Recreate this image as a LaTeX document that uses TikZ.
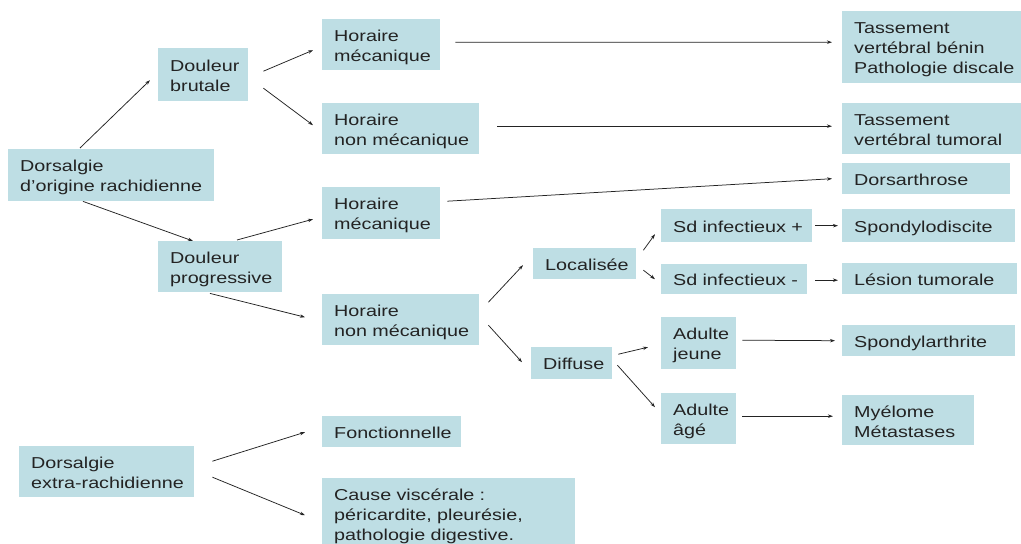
\documentclass[tikz,border=0pt]{standalone}
\usepackage{fontspec}
\setmainfont{Liberation Sans}[FakeStretch=1.25]
\usetikzlibrary{arrows.meta,calc}
\definecolor{boxfill}{RGB}{190,222,228}
\definecolor{ink}{RGB}{35,35,35}
\newcommand{\boxfont}{\fontsize{15.8bp}{20bp}\selectfont\hyphenpenalty=10000\exhyphenpenalty=10000\hbadness=10000\hfuzz=200pt}
\begin{document}
\begin{tikzpicture}[x=1bp,y=-1bp,
  box/.style={fill=boxfill, anchor=north west, inner xsep=12bp, inner ysep=0pt,
    align=left, text=ink, font=\boxfont,
    execute at begin node={\rule{0pt}{17bp}},
    execute at end node={\rule[-3.4bp]{0pt}{3.4bp}}},
  arr/.style={draw=ink, line width=0.75bp, -{Stealth[length=5bp,width=3.4bp]}}]
\useasboundingbox (0,0) rectangle (1021,544);
\clip (0,0) rectangle (1021,544);
\fill[white] (0,0) rectangle (1021,544);
% nodes
\node[box, minimum width=206bp, minimum height=52bp, text width=182bp] (dor) at (8,149) {Dorsalgie\\d'origine~rachidienne};
\node[box, minimum width=90bp, minimum height=53bp, text width=66bp] (db) at (158,48) {Douleur\\brutale};
\node[box, minimum width=118bp, minimum height=51bp, text width=94bp] (hm1) at (322,19) {Horaire\\mécanique};
\node[box, minimum width=157bp, minimum height=51bp, text width=133bp] (hnm1) at (322,103) {Horaire\\non~mécanique};
\node[box, minimum width=118bp, minimum height=52bp, text width=94bp] (hm2) at (322,187) {Horaire\\mécanique};
\node[box, minimum width=124bp, minimum height=51bp, text width=100bp] (dp) at (158,241) {Douleur\\progressive};
\node[box, minimum width=157bp, minimum height=51bp, text width=133bp] (hnm2) at (322,294) {Horaire\\non~mécanique};
\node[box, minimum width=139bp, minimum height=31bp, text width=115bp] (fon) at (322,416) {Fonctionnelle};
\node[box, minimum width=175bp, minimum height=51bp, text width=151bp] (dex) at (19,446) {Dorsalgie\\extra-rachidienne};
\node[box, minimum width=253bp, minimum height=70bp, text width=229bp] (cv) at (322,478) {Cause~viscérale~:\\péricardite,~pleurésie,\\pathologie~digestive.};
\node[box, minimum width=179bp, minimum height=72bp, text width=155bp] (tb) at (842,11) {Tassement\\vertébral~bénin\\Pathologie~discale};
\node[box, minimum width=179bp, minimum height=51bp, text width=155bp] (tt) at (842,103) {Tassement\\vertébral~tumoral};
\node[box, minimum width=168bp, minimum height=31bp, text width=144bp] (dsa) at (842,163) {Dorsarthrose};
\node[box, minimum width=151bp, minimum height=33bp, text width=127bp] (sip) at (661,209) {Sd~infectieux~+};
\node[box, minimum width=173bp, minimum height=33bp, text width=149bp] (spd) at (842,209) {Spondylodiscite};
\node[box, minimum width=103bp, minimum height=31bp, text width=79bp] (loc) at (533,248) {Localisée};
\node[box, minimum width=146bp, minimum height=30bp, text width=122bp] (sim) at (661,264) {Sd~infectieux~-};
\node[box, minimum width=175bp, minimum height=31bp, text width=151bp] (les) at (842,263) {Lésion~tumorale};
\node[box, minimum width=75bp, minimum height=52bp, text width=51bp] (aj) at (661,317) {Adulte\\jeune};
\node[box, minimum width=173bp, minimum height=31bp, text width=149bp] (spa) at (842,325) {Spondylarthrite};
\node[box, minimum width=81bp, minimum height=32bp, text width=57bp] (dif) at (531,347) {Diffuse};
\node[box, minimum width=75bp, minimum height=51bp, text width=51bp] (aa) at (661,393) {Adulte\\âgé};
\node[box, minimum width=132bp, minimum height=50bp, text width=108bp] (mye) at (842,395) {Myélome\\Métastases};
% connectors
\draw[arr] ($(dor.north west)+(72,-1)$) -- ($(db.west)+(-8,5.5)$);
\draw[arr] ($(dor.south west)+(75,0)$) -- ($(dp.north west)+(35,0)$);
\draw[arr] ($(db.east)+(15,-3.5)$) -- ($(hm1.west)+(-9,5.5)$);
\draw[arr] ($(db.east)+(15,13.5)$) -- ($(hnm1.west)+(-9,-3.5)$);
\draw[arr] ($(dp.north west)+(79,-1)$) -- ($(hm2.west)+(-9,6)$);
\draw[arr] ($(dp.south west)+(52,1)$) -- ($(hnm2.west)+(-17,-2.5)$);
\draw[arr] ($(hm1.east)+(15,-2.5)$) -- ($(tb.west)+(-10,-5)$);
\draw[arr] ($(hnm1.east)+(18,-2.5)$) -- ($(tt.west)+(-10,-2.5)$);
\draw[arr] ($(hm2.east)+(7,-12)$) -- ($(dsa.west)+(-10,0)$);
\draw[arr] ($(hnm2.east)+(9,-17.5)$) -- ($(loc.west)+(-10,1.5)$);
\draw[arr] ($(hnm2.east)+(9,5.5)$) -- ($(dif.west)+(-9,-1)$);
\draw[arr] ($(loc.east)+(7,-13.5)$) -- ($(sip.west)+(-6,8.5)$);
\draw[arr] ($(loc.east)+(7,6.5)$) -- ($(sim.west)+(-6,0)$);
\draw[arr] ($(sip.east)+(3,0)$) -- ($(spd.west)+(-4,0)$);
\draw[arr] ($(sim.east)+(8,1)$) -- ($(les.west)+(-4,1.5)$);
\draw[arr] ($(dif.east)+(6,-9)$) -- ($(aj.west)+(-13,4)$);
\draw[arr] ($(dif.east)+(5,2)$) -- ($(aa.west)+(-6,-11.5)$);
\draw[arr] ($(aj.east)+(6,-3)$) -- ($(spa.west)+(-7,0)$);
\draw[arr] ($(aa.east)+(6,-2.5)$) -- ($(mye.west)+(-9,-4)$);
\draw[arr] ($(dex.east)+(18,-10.5)$) -- ($(fon.west)+(-17,0.5)$);
\draw[arr] ($(dex.east)+(18,5.5)$) -- ($(cv.west)+(-17,2)$);
\end{tikzpicture}
\end{document}
